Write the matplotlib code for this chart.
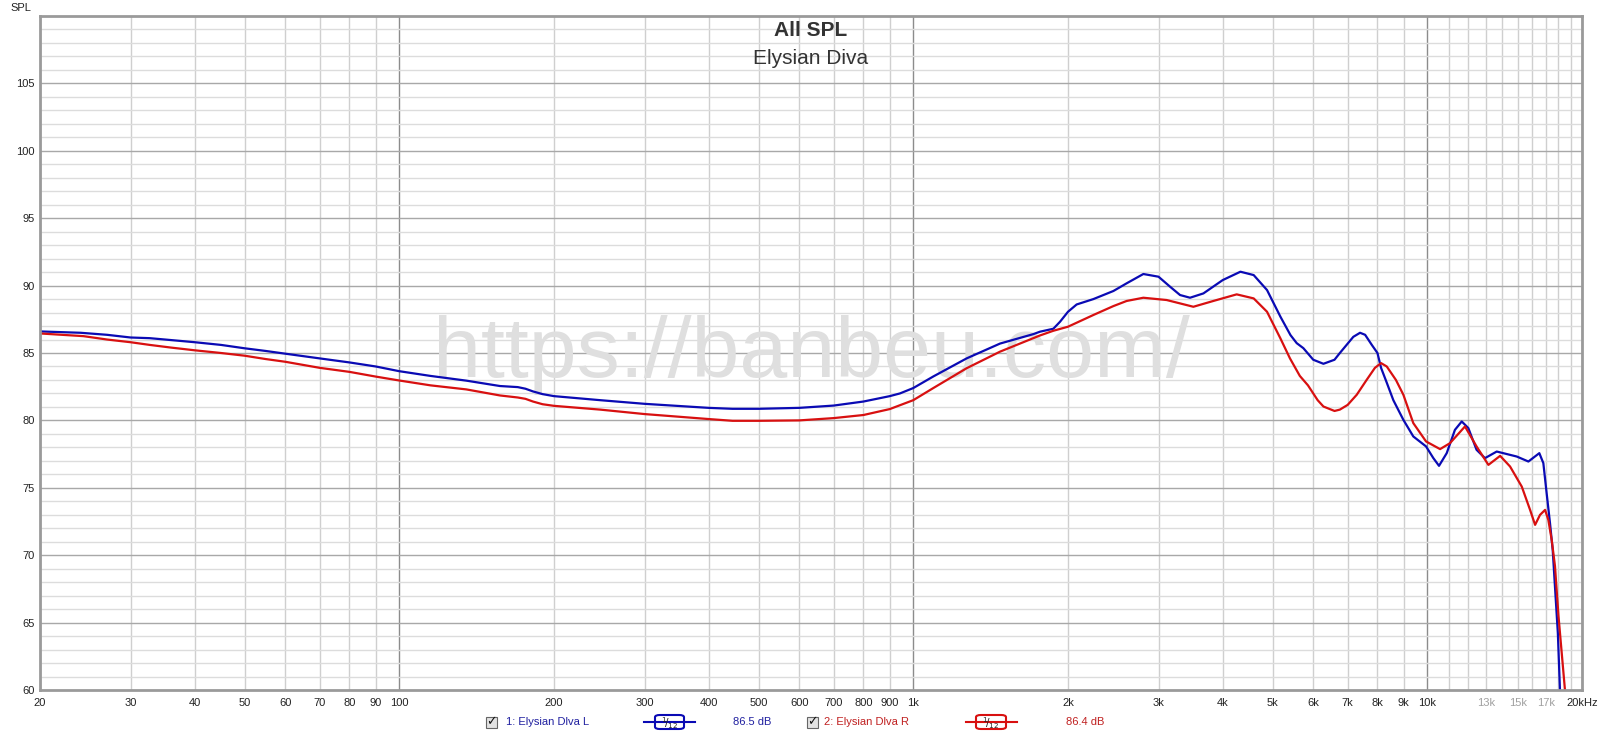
import matplotlib
matplotlib.use("Agg")
import matplotlib.pyplot as plt
from matplotlib.patches import Rectangle, FancyBboxPatch
from matplotlib.lines import Line2D

plt.rcParams['font.family'] = ['Liberation Sans', 'DejaVu Sans']

# ---------------- data ----------------
freq_L = [20, 24, 27, 30, 32.7, 35, 40, 45, 50, 55, 60, 70, 80, 90, 100, 115, 135, 157, 170,
          176, 182, 190, 200, 246, 300, 400, 445, 500, 600, 700, 800, 900, 942, 1000, 1094,
          1270, 1475, 1712, 1764, 1873, 1930, 2000, 2079, 2241, 2451, 2601, 2803, 3000, 3159,
          3304, 3455, 3668, 4000, 4330, 4595, 4878, 5180, 5418, 5572, 5740, 6000, 6280, 6600,
          6760, 7180, 7400, 7570, 7800, 8000, 8130, 8340, 8590, 8985, 9393, 9945, 10277, 10540,
          10910, 11320, 11670, 12020, 12470, 12950, 13650, 14930, 15730, 16520, 16820, 17070,
          17330, 17540, 17950, 18120, 18600]
spl_L = [86.6, 86.5, 86.35, 86.15, 86.1, 86.0, 85.8, 85.6, 85.35, 85.15, 84.95, 84.6, 84.3, 84.0,
         83.65, 83.3, 82.95, 82.55, 82.47, 82.35, 82.15, 81.95, 81.8, 81.5, 81.23, 80.93, 80.86,
         80.86, 80.93, 81.1, 81.4, 81.8, 82.0, 82.4, 83.26, 84.6, 85.7, 86.4, 86.58, 86.8, 87.32,
         88.06, 88.6, 89.0, 89.6, 90.17, 90.86, 90.66, 89.92, 89.3, 89.1, 89.42, 90.41, 91.03,
         90.78, 89.67, 87.69, 86.33, 85.73, 85.36, 84.5, 84.2, 84.5, 85.0, 86.2, 86.5, 86.35,
         85.6, 85.0, 83.9, 82.8, 81.5, 80.04, 78.81, 78.07, 77.2, 76.63, 77.57, 79.3, 79.92,
         79.43, 77.82, 77.2, 77.69, 77.32, 76.95, 77.57, 76.83, 74.6, 72.37, 70.39, 64.2, 60.0,
         50.0]

freq_R = [20, 24.3, 27, 30, 32.7, 36, 40, 45, 50, 55, 60, 70, 80, 90, 100, 115, 135, 157, 170,
          176, 182, 190, 200, 246, 300, 400, 445, 500, 600, 700, 800, 900, 1000, 1094, 1270,
          1475, 1712, 1764, 1873, 2000, 2241, 2451, 2601, 2803, 3111, 3507, 3835, 4258, 4595,
          4878, 5180, 5406, 5650, 5860, 6120, 6280, 6600, 6760, 7000, 7290, 7620, 7910, 8130,
          8340, 8690, 8985, 9393, 9945, 10590, 11070, 11840, 12470, 13150, 13860, 14490, 15270,
          15850, 16210, 16570, 16950, 17200, 17460, 17720, 18000, 18530, 19000]
spl_R = [86.45, 86.25, 86.0, 85.8, 85.6, 85.4, 85.2, 85.0, 84.8, 84.55, 84.35, 83.9, 83.6, 83.25,
         82.96, 82.6, 82.3, 81.85, 81.7, 81.6, 81.4, 81.2, 81.08, 80.8, 80.47, 80.1, 79.97, 79.97,
         80.0, 80.17, 80.4, 80.84, 81.5, 82.4, 83.87, 85.1, 86.1, 86.3, 86.65, 86.95, 87.82,
         88.48, 88.86, 89.1, 88.93, 88.43, 88.86, 89.35, 89.05, 88.06, 86.08, 84.6, 83.3, 82.6,
         81.5, 81.03, 80.7, 80.8, 81.15, 81.9, 83.0, 83.9, 84.25, 84.0, 83.0, 81.9, 79.8, 78.44,
         77.87, 78.31, 79.55, 78.07, 76.7, 77.37, 76.58, 75.09, 73.36, 72.25, 72.99, 73.36,
         72.62, 71.14, 69.2, 65.5, 60.0, 50.0]

xtick_vals = [20, 30, 40, 50, 60, 70, 80, 90, 100, 200, 300, 400, 500, 600, 700, 800, 900,
              1000, 2000, 3000, 4000, 5000, 6000, 7000, 8000, 9000, 10000, 13000, 15000, 17000, 20000]
xtick_labels = ['20', '30', '40', '50', '60', '70', '80', '90', '100', '200', '300', '400', '500',
                '600', '700', '800', '900', '1k', '2k', '3k', '4k', '5k', '6k', '7k', '8k', '9k',
                '10k', '13k', '15k', '17k', '20kHz']
ytick_vals = [60, 65, 70, 75, 80, 85, 90, 95, 100, 105]

name_L = "1: Elysian Dlva L"
name_R = "2: Elysian Dlva R"
level_L = "86.5 dB"
level_R = "86.4 dB"

BLUE = '#0a0ab4'
RED = '#d81010'

W, H = 1600, 737
fig = plt.figure(figsize=(W / 100, H / 100), dpi=100)
fig.patch.set_facecolor('white')
ax = fig.add_axes([40 / W, 1 - 690 / H, 1542 / W, (690 - 16) / H])
ax.set_xscale('log')
ax.set_xlim(20, 20000)
ax.set_ylim(60, 110)

# grid
grid_f = []
for dec in (10, 100, 1000):
    for m in range(1, 10):
        grid_f.append(m * dec)
grid_f += list(range(10000, 20001, 1000))
for f in grid_f:
    if f < 20 or f > 20000:
        continue
    if f in (100, 1000, 10000):
        ax.axvline(f, color='#8c8c8c', lw=1.0, zorder=1)
    else:
        ax.axvline(f, color='#cfcfcf', lw=1.0, zorder=1)
for d in range(61, 110):
    if d % 5 == 0:
        ax.axhline(d, color='#a8a8a8', lw=1.0, zorder=1)
    else:
        ax.axhline(d, color='#dcdcdc', lw=1.0, zorder=1)

# watermark
ax.text(0.5, (690 - 377) / 674, 'https://banbeu.com/', transform=ax.transAxes,
        ha='center', va='baseline', fontsize=62, color='#dfdfdf', zorder=2)

ax.plot(freq_L, spl_L, color=BLUE, lw=1.6, zorder=4, solid_joinstyle='round')
ax.plot(freq_R, spl_R, color=RED, lw=1.6, zorder=5, solid_joinstyle='round')

ax.set_xticks(xtick_vals)
ax.set_xticklabels(xtick_labels)
ax.xaxis.set_minor_locator(matplotlib.ticker.NullLocator())
ax.set_yticks(ytick_vals)
ax.set_yticklabels([str(v) for v in ytick_vals])
ax.tick_params(axis='both', length=0, labelsize=8, colors='#222222')
ax.tick_params(axis='x', pad=6)
ax.tick_params(axis='y', pad=4)
for lab in ax.get_xticklabels():
    if lab.get_text() in ('13k', '15k', '17k'):
        lab.set_color('#a0a0a0')

for s in ax.spines.values():
    s.set_color('#9a9a9a')
    s.set_linewidth(2.0)
    s.set_zorder(6)

# titles
ax.text(0.5, 1 - (30.5 - 16) / 674, 'All SPL', transform=ax.transAxes, ha='center', va='center',
        fontsize=15, fontweight='bold', color='#333333', zorder=7)
ax.text(0.5, 1 - (58 - 16) / 674, 'Elysian Diva', transform=ax.transAxes, ha='center', va='center',
        fontsize=15, color='#333333', zorder=7)
fig.text(10 / W, 1 - 8 / H, 'SPL', fontsize=8, color='#222222', va='center', ha='left')

# legend
def fx(px):
    return px / W

def fy(py):
    return 1 - py / H

ly = 722

def checkbox(cx):
    fig.patches.append(Rectangle((fx(cx - 5.5), fy(ly + 5.5)), 11 / W, 11 / H,
                                 transform=fig.transFigure, facecolor='#e2e2e2',
                                 edgecolor='#666666', lw=0.8))
    fig.text(fx(cx), fy(ly), '\u2713', family='DejaVu Sans', fontsize=9, fontweight='bold',
             ha='center', va='center', color='#111111')

def filt(x0, x1, b0, b1, col):
    fig.add_artist(Line2D([fx(x0), fx(x1)], [fy(ly), fy(ly)], transform=fig.transFigure,
                          color=col, lw=1.5))
    fig.patches.append(FancyBboxPatch((fx(b0), fy(ly + 7)), (b1 - b0) / W, 14 / H,
                                      boxstyle='round,pad=0,rounding_size=0.003',
                                      transform=fig.transFigure, facecolor='white',
                                      edgecolor=col, lw=1.5))
    fig.text(fx((b0 + b1) / 2), fy(ly + 1), r'$^{1}\!/_{12}$', fontsize=7.5, ha='center',
             va='center', color='#222222')

checkbox(491)
fig.text(fx(506), fy(ly), name_L, fontsize=8, color='#2020a0', va='center', ha='left')
filt(644, 695, 655, 684, BLUE)
fig.text(fx(733), fy(ly), level_L, fontsize=8, color='#2020a0', va='center', ha='left')
checkbox(812)
fig.text(fx(824), fy(ly), name_R, fontsize=8, color='#c02020', va='center', ha='left')
filt(966, 1017, 976, 1006, RED)
fig.text(fx(1066), fy(ly), level_R, fontsize=8, color='#c02020', va='center', ha='left')

fig.savefig('out.png', dpi=100, facecolor='white')
